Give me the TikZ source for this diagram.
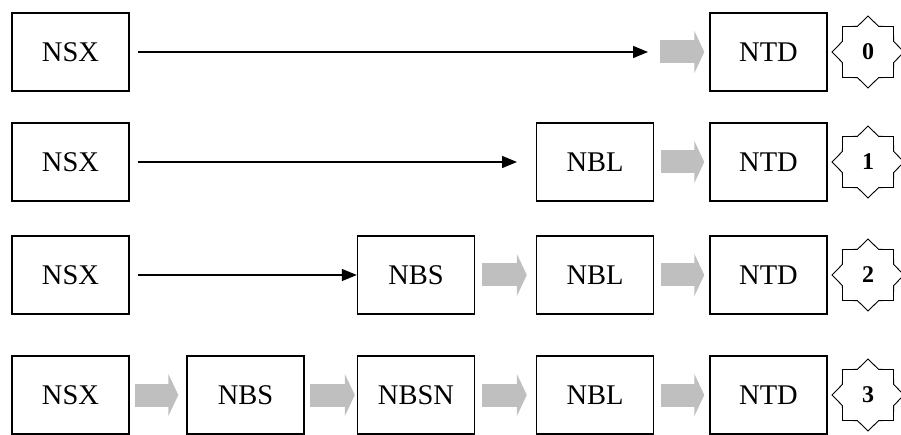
\documentclass[tikz,border=0pt]{standalone}
\usepackage{fontspec}
\setmainfont{Liberation Serif}
\usetikzlibrary{shapes.geometric,arrows.meta}
\begin{document}
\begin{tikzpicture}[x=1pt,y=-1pt,
  box/.style={draw, line width=1.4pt, minimum width=117pt, minimum height=78pt, inner sep=0pt,
    font=\fontsize{28.5}{30}\selectfont},
  starnode/.style={star, star points=8, star point ratio=1.3, draw, line width=0.9pt,
    minimum size=72pt, inner sep=0pt, font=\fontsize{24}{26}\selectfont\bfseries},
  blackarrow/.style={line width=1.4pt, -{Triangle[length=15pt,width=12pt]}},
  grayarrow/.style={line width=23pt, draw=black!25, -{Triangle[length=10pt,width=42pt]}}
]
\useasboundingbox (0,0) rectangle (901,435);
% row centres
\def\ra{52}\def\rb{162}\def\rc{275}\def\rd{395}
% row 0
\node[box] (a1) at (70.5,\ra) {NSX};
\node[box] (a5) at (768.5,\ra) {NTD};
\node[starnode] (s0) at (868,\ra) {0};
\coordinate (e0) at (648,\ra);
\draw[blackarrow] ([xshift=8pt]a1.east) -- (e0);
\draw[grayarrow] ([xshift=12pt]e0) -- ([xshift=-5pt]a5.west);
% row 1
\node[box] (b1) at (70.5,\rb) {NSX};
\node[box] (b4) at (595,\rb) {NBL};
\node[box] (b5) at (768.5,\rb) {NTD};
\node[starnode] (s1) at (868,\rb) {1};
\coordinate (e1) at (517,\rb);
\draw[blackarrow] ([xshift=8pt]b1.east) -- (e1);
\draw[grayarrow] ([xshift=7pt]b4.east) -- ([xshift=-5pt]b5.west);
% row 2
\node[box] (c1) at (70.5,\rc) {NSX};
\node[box] (c3) at (416,\rc) {NBS};
\node[box] (c4) at (595,\rc) {NBL};
\node[box] (c5) at (768.5,\rc) {NTD};
\node[starnode] (s2) at (868,\rc) {2};
\draw[blackarrow] ([xshift=8pt]c1.east) -- (c3.west);
\draw[grayarrow] ([xshift=7pt]c3.east) -- ([xshift=-9pt]c4.west);
\draw[grayarrow] ([xshift=7pt]c4.east) -- ([xshift=-5pt]c5.west);
% row 3
\node[box] (d1) at (70.5,\rd) {NSX};
\node[box] (d2) at (245.5,\rd) {NBS};
\node[box] (d3) at (416,\rd) {NBSN};
\node[box] (d4) at (595,\rd) {NBL};
\node[box] (d5) at (768.5,\rd) {NTD};
\node[starnode] (s3) at (868,\rd) {3};
\draw[grayarrow] ([xshift=5pt]d1.east) -- ([xshift=-8pt]d2.west);
\draw[grayarrow] ([xshift=5pt]d2.east) -- ([xshift=-2pt]d3.west);
\draw[grayarrow] ([xshift=7pt]d3.east) -- ([xshift=-9pt]d4.west);
\draw[grayarrow] ([xshift=7pt]d4.east) -- ([xshift=-5pt]d5.west);
\end{tikzpicture}
\end{document}
